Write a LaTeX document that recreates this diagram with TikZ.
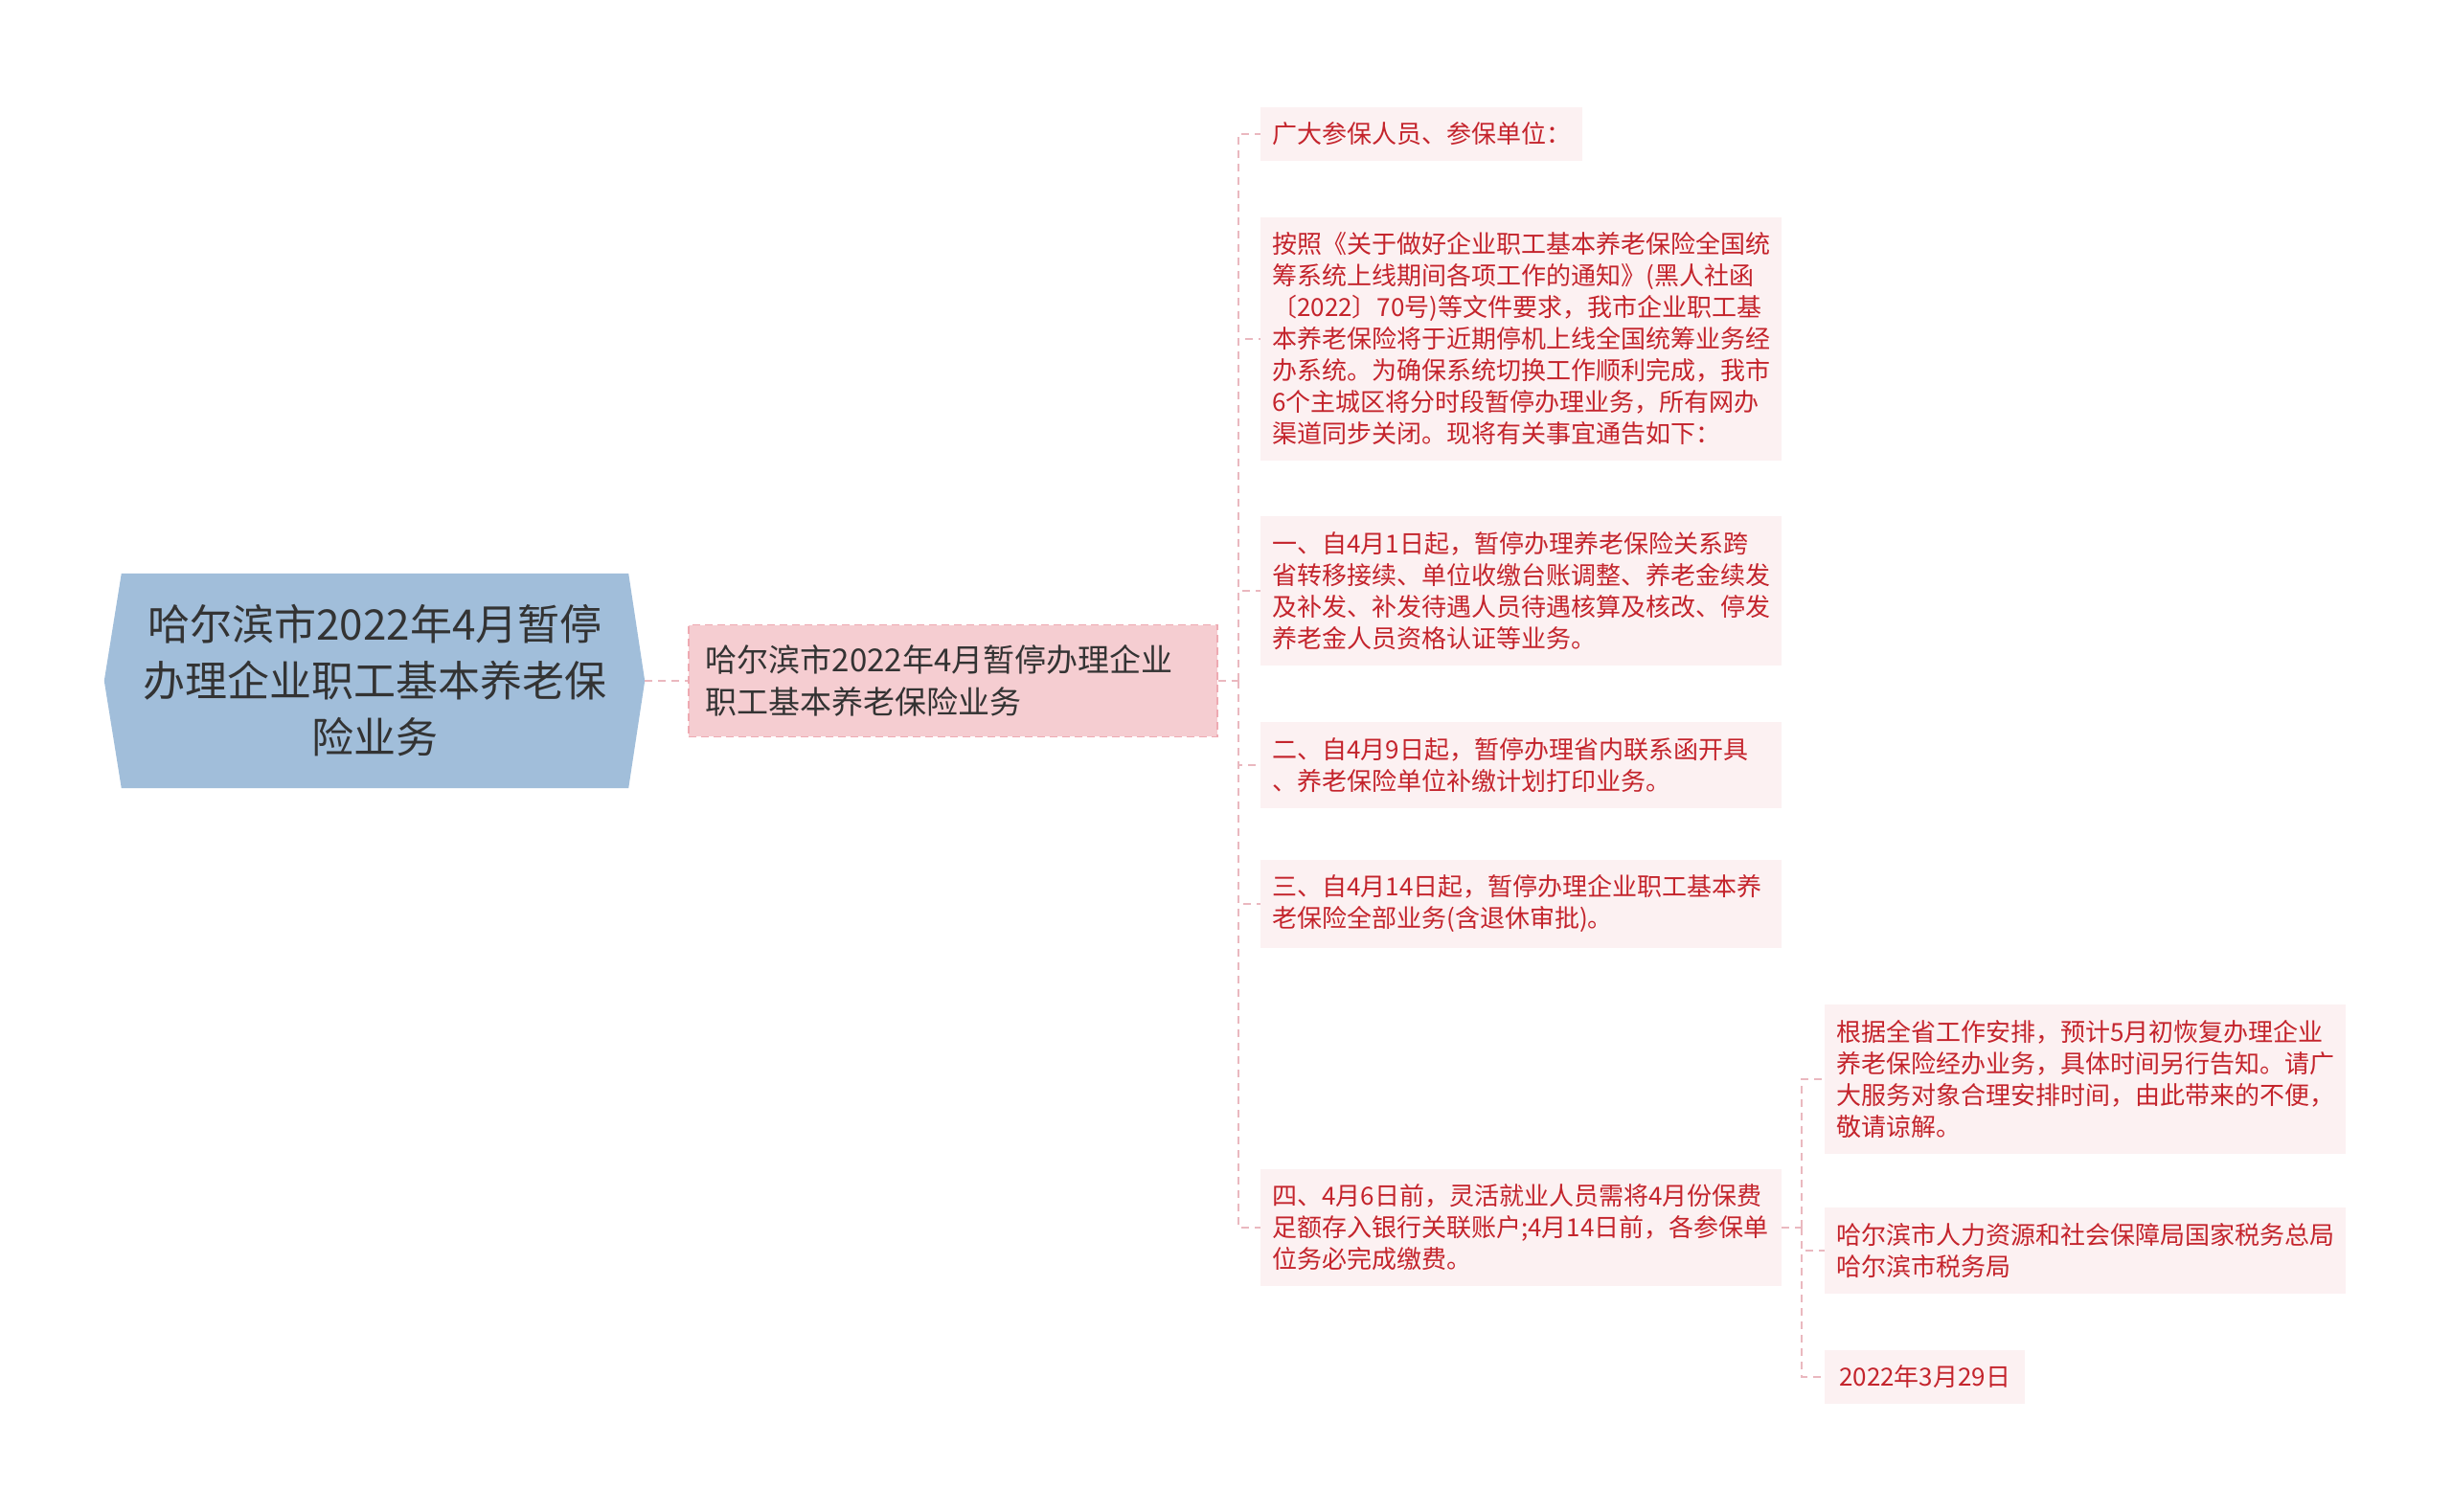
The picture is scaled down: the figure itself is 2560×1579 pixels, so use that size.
\documentclass[tikz,border=0pt]{standalone}
\usepackage{fontspec}
\setmainfont{Noto Sans CJK SC}
\usepackage{tikz}
\usetikzlibrary{positioning}
\usetikzlibrary{backgrounds}
\definecolor{rootblue}{RGB}{161,190,218}
\definecolor{topicpink}{RGB}{245,205,209}
\definecolor{topicline}{RGB}{238,170,178}
\definecolor{leafpink}{RGB}{252,241,242}
\definecolor{leafred}{RGB}{196,36,44}
\definecolor{linkpink}{RGB}{234,184,191}
\definecolor{darktext}{RGB}{51,51,51}
\tikzset{
  rootbox/.style={minimum width=529pt, minimum height=224pt, inner sep=0, align=center,
    text=darktext, font=\fontsize{44pt}{59pt}\selectfont},
  topic/.style={fill=topicpink, draw=topicline, dash pattern=on 8pt off 5pt, line width=1.5pt,
    anchor=west, text width=516pt, inner xsep=18pt, inner ysep=21pt, align=left,
    text=darktext, font=\fontsize{33pt}{44pt}\selectfont},
  leaf/.style={fill=leafpink, anchor=west, inner xsep=12pt, inner ysep=16pt, align=left,
    text=leafred, font=\fontsize{26pt}{33pt}\selectfont},
  wide/.style={leaf, text width=520pt},
  link/.style={draw=linkpink, line width=2pt, dash pattern=on 8pt off 6pt}
}

\begin{document}
\begin{tikzpicture}[x=1pt, y=-1pt]
  \useasboundingbox (0,0) rectangle (2560,1579);

  % root
  \node[rootbox] (root) at (391.5,711) {哈尔滨市2022年4月暂停\\办理企业职工基本养老保\\险业务};
  \begin{scope}[on background layer]
    \fill[white] (0,0) rectangle (2560,1579);
    \fill[rootblue] (root.north west) -- (root.north east) -- ([xshift=17pt]root.east)
      -- (root.south east) -- (root.south west) -- ([xshift=-18pt]root.west) -- cycle;
  \end{scope}

  \node[topic] (topic) at (718,711) {哈尔滨市2022年4月暂停办理企业\\职工基本养老保险业务};

  % leaves
  \node[leaf] (l1) at (1316,140) {广大参保人员、参保单位：};
  \node[wide] (l2) at (1316,354) {按照《关于做好企业职工基本养老保险全国统\\筹系统上线期间各项工作的通知》(黑人社函\\〔2022〕70号)等文件要求，我市企业职工基\\本养老保险将于近期停机上线全国统筹业务经\\办系统。为确保系统切换工作顺利完成，我市\\6个主城区将分时段暂停办理业务，所有网办\\渠道同步关闭。现将有关事宜通告如下：};
  \node[wide] (l3) at (1316,617) {一、自4月1日起，暂停办理养老保险关系跨\\省转移接续、单位收缴台账调整、养老金续发\\及补发、补发待遇人员待遇核算及核改、停发\\养老金人员资格认证等业务。};
  \node[wide] (l4) at (1316,799) {二、自4月9日起，暂停办理省内联系函开具\\、养老保险单位补缴计划打印业务。};
  \node[wide] (l5) at (1316,944) {三、自4月14日起，暂停办理企业职工基本养\\老保险全部业务(含退休审批)。};
  \node[wide] (l6) at (1316,1282) {四、4月6日前，灵活就业人员需将4月份保费\\足额存入银行关联账户;4月14日前，各参保单\\位务必完成缴费。};

  \node[wide] (s1) at (1905,1127) {根据全省工作安排，预计5月初恢复办理企业\\养老保险经办业务，具体时间另行告知。请广\\大服务对象合理安排时间，由此带来的不便，\\敬请谅解。};
  \node[wide] (s2) at (1905,1306) {哈尔滨市人力资源和社会保障局国家税务总局\\哈尔滨市税务局};
  \node[leaf, inner xsep=15pt] (s3) at (1905,1438) {2022年3月29日};

  % connectors
  \draw[link] (root.east) ++(17,0) -- (topic.west);
  \coordinate (fork) at (1293,711);
  \draw[link] (topic.east) -- (fork);
  \foreach \n in {l1,l2,l3,l4,l5,l6}
    \draw[link] (fork) |- (\n.west);
  \coordinate (subfork) at (1881,1282);
  \draw[link] (l6.east) -- (subfork);
  \foreach \n in {s1,s2,s3}
    \draw[link] (subfork) |- (\n.west);
\end{tikzpicture}
\end{document}
